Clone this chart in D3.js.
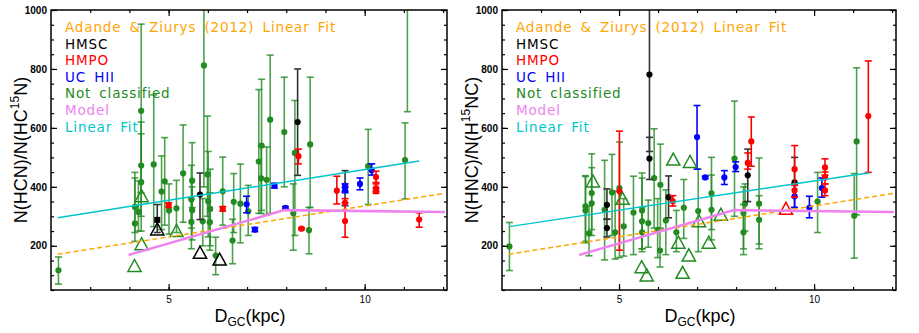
<!DOCTYPE html>
<html>
<head>
<meta charset="utf-8">
<script src="https://cdn.jsdelivr.net/npm/d3@7"></script>
<style>
  body { margin: 0; background: #fff; }
  svg { display: block; }
</style>
</head>
<body>
<svg id="chart" width="919" height="333"></svg>
<script>
// each point: [D_GC (kpc), ratio, lower end of error bar, upper end of error bar]
const hcnNotClassified = [
  [2.19, 117, 70, 162], [4.14, 332, 245, 449], [4.14, 276, 215, 430], [4.23, 315, 250, 420],
  [4.30, 658, 380, 952], [4.30, 472, 300, 620], [4.30, 416, 250, 580], [4.62, 476, 265, 712],
  [4.82, 384, 255, 505], [4.90, 419, 270, 567], [5.01, 320, 240, 410], [5.20, 327, 245, 422],
  [5.37, 446, 280, 610], [5.60, 421, 330, 550], [5.58, 357, 260, 473], [5.60, 321, 220, 400],
  [5.58, 281, 190, 360], [5.87, 283, 200, 360], [5.90, 812, 400, 1100], [5.99, 442, 300, 640],
  [6.01, 351, 230, 520], [6.06, 325, 200, 460], [6.05, 280, 185, 380], [6.20, 167, 102, 229],
  [6.38, 385, 270, 501], [6.63, 218, 139, 290], [6.66, 349, 245, 445], [6.83, 343, 210, 477],
  [7.03, 317, 235, 405], [7.30, 486, 310, 730], [7.37, 540, 320, 765], [7.36, 429, 310, 540],
  [7.50, 424, 305, 535], [7.59, 628, 310, 847], [7.95, 586, 400, 772], [8.18, 310, 185, 410],
  [8.22, 515, 235, 693], [8.58, 253, 173, 330], [8.61, 544, 330, 772], [10.09, 470, 340, 595],
  [11.03, 491, 359, 617], [11.09, 1100, 655, 1200]
];
const hcnHMSC = [[5.80, 374, 289, 447], [8.29, 620, 439, 800], [9.50, 404, 336, 455]];
const hcnHMSCSquare = [[4.71, 288, 245, 340]];
const hcnHMPO = [
  [5.00, 338, 330, 346], [6.38, 325, 318, 333], [8.31, 504, 478, 528], [8.39, 258, 255, 261],
  [9.29, 387, 342, 436], [9.50, 346, 320, 360], [9.50, 284, 229, 345], [10.29, 433, 415, 453],
  [10.29, 396, 385, 410], [10.29, 385, 378, 395], [11.39, 289, 263, 312]
];
const hcnUCHII = [
  [6.99, 341, 312, 368], [7.20, 255, 248, 262], [7.70, 404, 396, 412], [7.98, 329, 325, 333],
  [9.50, 402, 385, 410], [9.50, 389, 380, 398], [9.88, 410, 390, 430], [10.18, 456, 440, 478]
];
const hcnTriBlack = [[4.71, 252], [5.80, 173], [6.30, 150]];
const hcnTriGreen = [[4.31, 365], [4.31, 202], [4.13, 128], [5.20, 247]];
const hcnTriRed = [];
const hcnFitD = [2.17, 11.39];
const hcnFitV = [295, 488];

const hncNotClassified = [
  [2.19, 198, 116, 279], [4.14, 334, 215, 438], [4.14, 320, 210, 435], [4.23, 242, 166, 335],
  [4.30, 379, 235, 512], [4.30, 344, 255, 465], [4.63, 322, 152, 490], [4.82, 381, 235, 510],
  [4.90, 246, 155, 385], [5.01, 396, 160, 552], [5.12, 266, 165, 360], [5.37, 313, 170, 436],
  [5.59, 320, 180, 447], [5.59, 283, 190, 430], [5.59, 246, 190, 330], [5.75, 277, 195, 355],
  [5.90, 430, 260, 597], [5.99, 254, 160, 360], [6.06, 407, 260, 545], [6.05, 184, 128, 255],
  [6.20, 286, 170, 390], [6.47, 246, 180, 320], [6.66, 329, 225, 425], [7.03, 318, 180, 460],
  [7.37, 378, 255, 500], [7.37, 322, 220, 440], [7.96, 496, 300, 691], [8.19, 246, 170, 340],
  [8.19, 311, 190, 400], [8.23, 343, 250, 410], [8.59, 343, 206, 498], [8.59, 288, 190, 370],
  [10.09, 350, 245, 449], [11.03, 302, 158, 445], [11.09, 554, 305, 804]
];
const hncHMSC = [
  [4.69, 339, 290, 393], [4.69, 260, 230, 290], [5.78, 496, 425, 568], [5.78, 781, 520, 1100],
  [6.27, 365, 295, 437], [8.30, 439, 350, 528], [9.50, 415, 330, 500]
];
const hncHMSCSquare = [];
const hncHMPO = [
  [5.01, 385, 185, 589], [6.38, 351, 335, 370], [8.30, 481, 460, 515], [8.39, 554, 470, 637],
  [9.50, 460, 410, 540], [9.50, 388, 365, 405], [10.28, 466, 440, 495], [10.28, 432, 410, 450],
  [10.28, 388, 370, 410], [11.39, 640, 449, 827]
];
const hncUCHII = [
  [7.00, 569, 460, 676], [7.21, 432, 428, 436], [7.70, 432, 408, 455], [7.99, 467, 452, 485],
  [9.50, 368, 330, 410], [9.88, 329, 295, 368], [10.20, 396, 365, 430]
];
const hncTriBlack = [];
const hncTriGreen = [
  [4.33, 415], [5.09, 356], [6.39, 489], [6.82, 481], [5.58, 124], [5.71, 96],
  [6.52, 207], [6.79, 164], [7.30, 207], [6.63, 105], [7.05, 280], [7.61, 302]
];
const hncTriRed = [[9.28, 322]];
const hncFitD = [2.18, 11.42];
const hncFitV = [265, 448];

// shared curves
const adandeD = [2.17, 12.05];
const adandeV = [171, 378];
const modelD = [3.98, 7.95, 12.05];
const modelV = [169, 321, 315];

const yTicks = [200, 400, 600, 800, 1000];
const yMinor = d3.range(50, 1001, 50);
const xTicks = [5, 10];
const xMinor = d3.range(3, 13, 1);

const legendItems = [
  ["Adande & Ziurys (2012) Linear Fit", "#ffa500"],
  ["HMSC", "#000"],
  ["HMPO", "#ff0000"],
  ["UC HII", "#0000ff"],
  ["Not classified", "#228b22"],
  ["Model", "#ee82ee"],
  ["Linear Fit", "#00c5cd"]
];

const svg = d3.select("#chart");
const font = "'Liberation Sans', Arial, sans-serif";

function drawPanel(o) {
  const g = svg.append("g").attr("transform", `translate(${o.left},${o.top})`);
  const x = d3.scaleLinear().domain([2, 12.1]).range([0, o.w]);
  const y = d3.scaleLinear().domain([50, 1000]).range([o.h, 0]);

  const clipId = "clip" + o.id;
  g.append("clipPath").attr("id", clipId)
    .append("rect").attr("width", o.w).attr("height", o.h);
  const plot = g.append("g").attr("clip-path", `url(#${clipId})`);

  // error bars and filled markers
  function points(data, color, barColor, square) {
    const pg = plot.append("g");
    data.forEach(d => {
      const cx = x(d[0]);
      pg.append("line").attr("x1", cx).attr("x2", cx)
        .attr("y1", y(d[2])).attr("y2", y(d[3]))
        .attr("stroke", barColor).attr("stroke-width", 1.6);
      [d[2], d[3]].forEach(v => {
        pg.append("line").attr("x1", cx - 3.5).attr("x2", cx + 3.5)
          .attr("y1", y(v)).attr("y2", y(v))
          .attr("stroke", barColor).attr("stroke-width", 1.6);
      });
    });
    data.forEach(d => {
      if (square) {
        pg.append("rect").attr("x", x(d[0]) - 3).attr("y", y(d[1]) - 3)
          .attr("width", 6).attr("height", 6).attr("fill", color);
      } else {
        pg.append("circle").attr("cx", x(d[0])).attr("cy", y(d[1]))
          .attr("r", 3.1).attr("fill", color);
      }
    });
  }

  function triangles(data, color) {
    plot.append("g").selectAll("path").data(data).join("path")
      .attr("transform", d => `translate(${x(d[0])},${y(d[1])})`)
      .attr("d", "M0,-7.5L6.6,4.5L-6.6,4.5Z")
      .attr("fill", "none").attr("stroke", color).attr("stroke-width", 1.5);
  }

  points(o.nc, "#228b22", "rgba(34,139,34,0.8)");
  points(o.hmsc, "#000", "#333");
  points(o.hmscSq, "#000", "#333", true);
  points(o.uchii, "#0000ff", "#0000ff");
  points(o.hmpo, "#ff0000", "#ff0000");
  triangles(o.triGreen, "#228b22");
  triangles(o.triBlack, "#000");
  triangles(o.triRed, "#ff0000");

  const line = d3.line().x(d => x(d[0])).y(d => y(d[1]));
  plot.append("path").datum(d3.zip(adandeD, adandeV)).attr("d", line)
    .attr("fill", "none").attr("stroke", "#ffa500").attr("stroke-width", 1.5)
    .attr("stroke-dasharray", "5,3");
  plot.append("path").datum(d3.zip(modelD, modelV)).attr("d", line)
    .attr("fill", "none").attr("stroke", "#ee82ee").attr("stroke-width", 2.5);
  plot.append("path").datum(d3.zip(o.fitD, o.fitV)).attr("d", line)
    .attr("fill", "none").attr("stroke", "#00c5cd").attr("stroke-width", 1.5);

  // axes, ticks inward on all four sides
  const styleAxis = sel => {
    sel.select(".domain").remove();
    sel.selectAll("line").attr("stroke", "#000").attr("stroke-width", 1.2);
    sel.selectAll("text").attr("font-family", font).attr("fill", "#000");
  };
  g.append("g").attr("transform", `translate(0,${o.h})`)
    .call(d3.axisBottom(x).tickValues(xMinor).tickSize(-3).tickFormat("")).call(styleAxis);
  g.append("g").attr("transform", `translate(0,${o.h})`)
    .call(d3.axisBottom(x).tickValues(xTicks).tickSize(-6).tickPadding(6).tickFormat(d3.format("d")))
    .call(styleAxis)
    .selectAll("text").attr("font-size", 10);
  g.append("g")
    .call(d3.axisTop(x).tickValues(xMinor).tickSize(-3).tickFormat("")).call(styleAxis);
  g.append("g")
    .call(d3.axisTop(x).tickValues(xTicks).tickSize(-6).tickFormat("")).call(styleAxis);
  g.append("g")
    .call(d3.axisLeft(y).tickValues(yMinor).tickSize(-3).tickFormat("")).call(styleAxis);
  g.append("g")
    .call(d3.axisLeft(y).tickValues(yTicks).tickSize(-6).tickPadding(4).tickFormat(d3.format("d")))
    .call(styleAxis)
    .selectAll("text").attr("font-size", 10).attr("font-weight", "bold");
  g.append("g").attr("transform", `translate(${o.w},0)`)
    .call(d3.axisRight(y).tickValues(yMinor).tickSize(-3).tickFormat("")).call(styleAxis);
  g.append("g").attr("transform", `translate(${o.w},0)`)
    .call(d3.axisRight(y).tickValues(yTicks).tickSize(-6).tickFormat("")).call(styleAxis);

  g.append("rect").attr("width", o.w).attr("height", o.h)
    .attr("fill", "none").attr("stroke", "#000").attr("stroke-width", 1.5);

  // legend
  const lg = g.append("g").attr("font-family", "'DejaVu Sans', sans-serif")
    .attr("font-size", 13.5);
  legendItems.forEach((it, i) => {
    lg.append("text").attr("x", 14).attr("y", 22 + i * 16.6)
      .attr("fill", it[1]).attr("letter-spacing", 0.85).attr("word-spacing", 3)
      .text(it[0]);
  });

  // axis titles
  const xt = g.append("text").attr("x", o.w / 2 + 1).attr("y", o.h + 32)
    .attr("text-anchor", "middle").attr("font-family", font).attr("font-size", 18);
  xt.append("tspan").text("D");
  xt.append("tspan").attr("font-size", 12).attr("dy", 4).text("GC");
  xt.append("tspan").attr("dy", -4).text("(kpc)");

  const yt = g.append("text")
    .attr("transform", `translate(${-24},${o.h / 2}) rotate(-90)`)
    .attr("text-anchor", "middle").attr("font-family", font).attr("font-size", 18);
  yt.append("tspan").text(o.ylab[0]);
  yt.append("tspan").attr("font-size", 12).attr("dy", -8).text("15");
  yt.append("tspan").attr("dy", 8).text(o.ylab[1]);
}

drawPanel({
  id: 1, left: 51, top: 10, w: 396, h: 280,
  nc: hcnNotClassified, hmsc: hcnHMSC, hmscSq: hcnHMSCSquare, hmpo: hcnHMPO, uchii: hcnUCHII,
  triGreen: hcnTriGreen, triBlack: hcnTriBlack, triRed: hcnTriRed,
  fitD: hcnFitD, fitV: hcnFitV, ylab: ["N(HCN)/N(HC", "N)"]
});
drawPanel({
  id: 2, left: 502, top: 10, w: 394, h: 280,
  nc: hncNotClassified, hmsc: hncHMSC, hmscSq: hncHMSCSquare, hmpo: hncHMPO, uchii: hncUCHII,
  triGreen: hncTriGreen, triBlack: hncTriBlack, triRed: hncTriRed,
  fitD: hncFitD, fitV: hncFitV, ylab: ["N(HNC)/N(H", "NC)"]
});
</script>
</body>
</html>
